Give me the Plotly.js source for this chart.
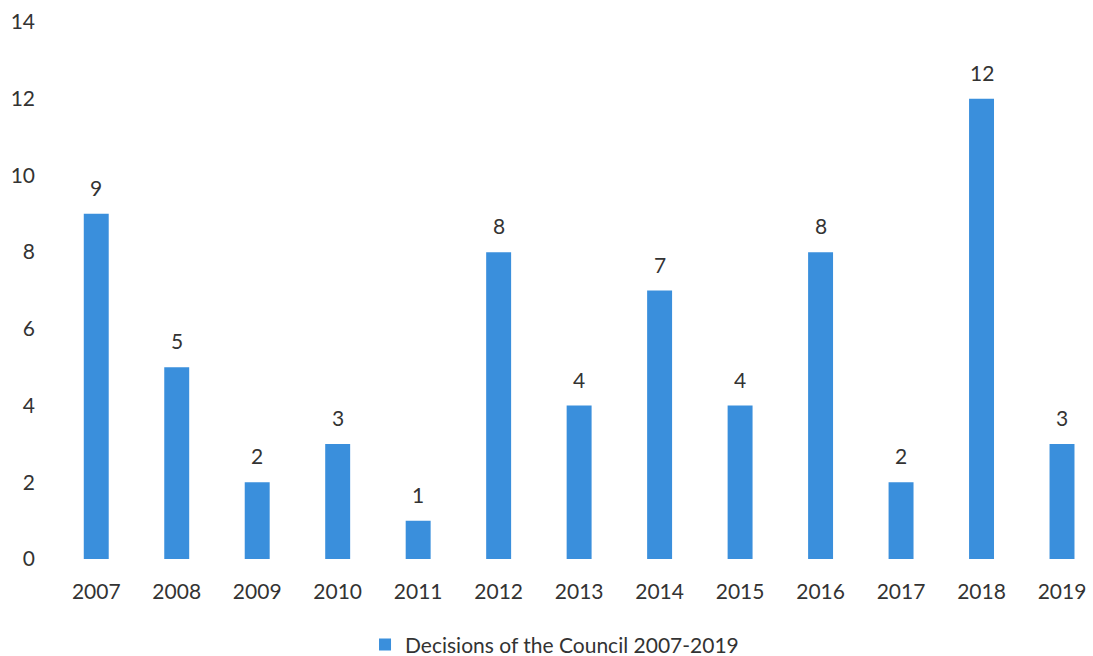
<!DOCTYPE html>
<html><head><meta charset="utf-8">
<script src="https://cdn.plot.ly/plotly-3.0.1.min.js"></script>
<style>html,body{margin:0;padding:0;background:#fff;}#chart{width:1093px;height:656px;}</style>
</head><body><div id="chart"></div>
<script>
const years = ['2007','2008','2009','2010','2011','2012','2013','2014','2015','2016','2017','2018','2019'];
const decisions = [9,5,2,3,1,8,4,7,4,8,2,12,3];
const seriesName = 'Decisions of the Council 2007-2019';
const yTicks = [0,2,4,6,8,10,12,14];

const trace = {
  type:'bar', x: years, y: decisions, name: seriesName,
  marker:{color:'#3a8fdc'}, width:0.31,
  showlegend:true
};
const annotations = years.map((yr,i)=>({
  x: i, y: decisions[i], xref:'x', yref:'y', text: String(decisions[i]),
  showarrow:false, yanchor:'bottom', yshift:12,
  font:{family:'Lato, sans-serif', size:21, color:'#333'}
}));
const layout = {
  width:1093, height:656,
  margin:{l:56, r:0, t:22, b:97, autoexpand:false},
  paper_bgcolor:'#fff', plot_bgcolor:'#fff',
  font:{family:'Lato, sans-serif', size:21, color:'#333'},
  xaxis:{type:'category', range:[-0.5,12.385], showgrid:false, zeroline:false, showline:false, ticks:'', ticklabelstandoff:18, tickfont:{size:21,color:'#333'}},
  yaxis:{range:[0,14], tickvals:yTicks, showgrid:false, zeroline:false, showline:false, ticks:'', ticklabelstandoff:20, tickfont:{size:21,color:'#333'}},
  showlegend:true,
  legend:{orientation:'h', x:0.298, xanchor:'left', y:-0.16, yanchor:'middle', font:{size:21,color:'#333'}},
  annotations: annotations,
  bargap:0.69
};
Plotly.newPlot('chart',[trace],layout,{displayModeBar:false, staticPlot:true});
</script></body></html>
